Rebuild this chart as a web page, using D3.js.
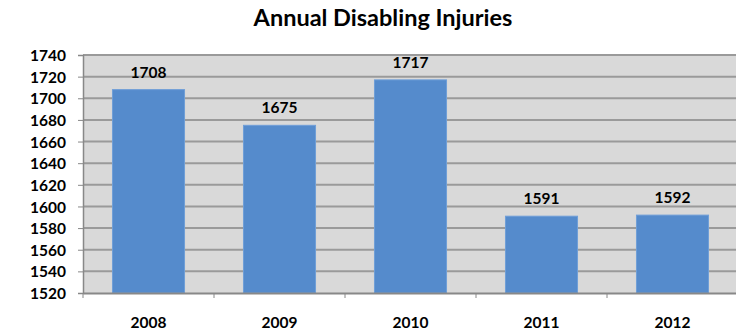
<!DOCTYPE html>
<html>
<head>
<meta charset="utf-8">
<script src="https://cdn.jsdelivr.net/npm/d3@7"></script>
<style>
  html, body { margin: 0; padding: 0; background: #fff; }
  svg text { font-family: Lato, "Liberation Sans", Arial, sans-serif; font-weight: bold; fill: #000; }
</style>
</head>
<body>
<svg id="chart" width="736" height="333"></svg>
<script>
const categories = ["2008", "2009", "2010", "2011", "2012"];
const values = [1708, 1675, 1717, 1591, 1592];
const yTicks = [1520, 1540, 1560, 1580, 1600, 1620, 1640, 1660, 1680, 1700, 1720, 1740];
const title = "Annual Disabling Injuries";

(function () {
const svg = d3.select("#chart");
const mLeft = 83, mRight = 738, mTop = 55, mBottom = 293;

const x = d3.scaleBand().domain(categories).range([mLeft, mRight]).paddingInner(0.45).paddingOuter(0.225);
const xc = d3.scaleBand().domain(categories).range([mLeft, mRight]);
const y = d3.scaleLinear().domain([1520, 1740]).range([mBottom, mTop]);

// plot background
svg.append("rect").attr("x", mLeft).attr("y", mTop).attr("width", mRight - mLeft).attr("height", mBottom - mTop)
  .attr("fill", "#d9d9d9");

// gridlines
svg.append("g").selectAll("line").data(yTicks.filter(t => t > 1520)).join("line")
  .attr("x1", mLeft).attr("x2", mRight)
  .attr("y1", d => y(d)).attr("y2", d => y(d))
  .attr("stroke", "#9a9a9a").attr("stroke-width", 2);

// bars
svg.append("g").selectAll("rect").data(values).join("rect")
  .attr("x", (d, i) => x(categories[i]))
  .attr("width", x.bandwidth())
  .attr("y", d => y(d))
  .attr("height", d => y(1520) - y(d))
  .attr("fill", "#558bcc")
  .attr("stroke", "#6f9fd8").attr("stroke-width", 1);

// data labels
svg.append("g").selectAll("text").data(values).join("text")
  .attr("x", (d, i) => x(categories[i]) + x.bandwidth() / 2)
  .attr("y", d => y(d) - 12)
  .attr("text-anchor", "middle")
  .attr("font-size", 15.5)
  .text(d => d);

// y axis
const yAxis = d3.axisLeft(y).tickValues(yTicks).tickSize(5).tickPadding(12).tickFormat(d3.format("d"));
const ga = svg.append("g").attr("transform", `translate(${mLeft},0)`).call(yAxis);
ga.select(".domain").attr("stroke", "#888").attr("stroke-width", 1.5);
ga.selectAll(".tick line").attr("stroke", "#888");
ga.selectAll(".tick text").attr("font-size", 15.5).attr("font-family", null).attr("dy", "0.36em");

// x axis
const xAxis = d3.axisBottom(xc).tickSize(0).tickPadding(24);
const gx = svg.append("g").attr("transform", `translate(0,${mBottom})`).call(xAxis);
gx.select(".domain").attr("stroke", "#888").attr("stroke-width", 2);
gx.selectAll(".tick text").attr("font-size", 15.5).attr("font-family", null);
// category boundary ticks
svg.append("g").selectAll("line").data(categories).join("line")
  .attr("x1", d => xc(d)).attr("x2", d => xc(d))
  .attr("y1", mBottom).attr("y2", mBottom + 5)
  .attr("stroke", "#888").attr("stroke-width", 1);

// title
svg.append("text").attr("x", 383).attr("y", 26).attr("text-anchor", "middle")
  .attr("font-size", 23.5).text(title);
})();
</script>
</body>
</html>
